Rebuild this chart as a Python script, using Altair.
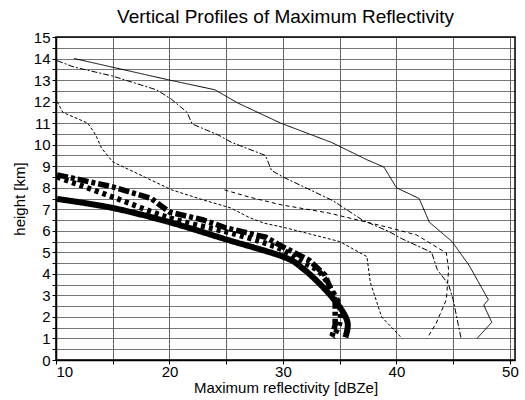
import altair as alt
import pandas as pd

# thin solid
a_x = [11.6, 20.0, 24.0, 26.0, 29.8, 31.3, 34.3, 37.4, 38.9, 40.0, 42.0, 42.9, 44.9, 46.4, 48.1, 47.7, 48.4, 47.1]
a_y = [14.0, 13.0, 12.55, 11.94, 11.0, 10.7, 10.1, 9.3, 8.96, 8.0, 7.5, 6.4, 5.5, 4.4, 2.8, 2.55, 1.75, 1.0]
# thin dash-dot
b_x = [10.1, 11.6, 14.9, 18.9, 20.2, 21.55, 22.0, 24.3, 25.5, 28.45, 29.0, 30.0, 34.4, 37.0, 39.4, 40.4, 43.1, 43.6, 44.6, 45.0, 45.7]
b_y = [13.9, 13.6, 13.2, 12.54, 12.1, 11.5, 10.96, 10.45, 10.1, 9.5, 8.8, 8.5, 7.4, 6.5, 5.95, 5.65, 5.0, 4.2, 3.5, 2.8, 1.0]
# thin dashed (starts at 25 dBZe)
c_x = [24.85, 27.0, 29.9, 34.0, 36.6, 39.5, 41.8, 44.4, 44.6, 44.4, 43.5, 42.7]
c_y = [7.9, 7.57, 7.2, 6.83, 6.5, 6.13, 5.8, 4.97, 4.2, 2.8, 1.7, 1.0]
# thin fine dashed
d_x = [10.1, 10.6, 12.8, 13.5, 14.0, 15.0, 17.8, 20.2, 23.0, 25.4, 27.1, 28.3, 30.3, 35.0, 37.4, 37.7, 38.7, 40.5]
d_y = [12.0, 11.5, 11.0, 10.45, 9.85, 9.2, 8.5, 7.9, 7.43, 7.06, 6.6, 6.36, 6.13, 5.5, 4.8, 3.6, 2.0, 1.0]
# thick solid
e_x = [10.1, 15.0, 20.0, 25.0, 30.0, 31.7, 33.5, 35.0, 35.7, 35.5]
e_y = [7.48, 7.06, 6.4, 5.6, 4.8, 4.27, 3.4, 2.46, 1.72, 1.05]
# thick dotted
f_x = [10.1, 15.0, 20.0, 25.0, 28.0, 30.0, 31.7, 33.2, 34.3, 35.0, 35.0, 34.4]
f_y = [8.5, 7.57, 6.6, 5.95, 5.5, 5.1, 4.55, 4.1, 3.25, 2.5, 1.7, 1.05]
# thick dash-dot
g_x = [10.1, 15.0, 18.4, 20.0, 23.0, 25.0, 28.5, 30.2, 32.3, 33.7, 34.6, 34.6, 34.3]
g_y = [8.6, 8.04, 7.5, 6.87, 6.5, 6.13, 5.7, 5.2, 4.64, 3.95, 2.8, 1.63, 1.05]

x_ticks = [10, 15, 20, 25, 30, 35, 40, 45, 50]
y_ticks = [v / 2 for v in range(0, 31)]

styles = [
    (a_x, a_y, 1.0, [1, 0], "linear"),
    (b_x, b_y, 1.0, [6, 2, 2, 2], "linear"),
    (c_x, c_y, 1.0, [4, 3], "linear"),
    (d_x, d_y, 1.0, [3, 2], "linear"),
    (e_x, e_y, 6.0, [1, 0], "cardinal"),
    (f_x, f_y, 5.5, [4, 4], "cardinal"),
    (g_x, g_y, 5.5, [11, 3, 4, 3], "linear"),
]

xs = alt.Scale(domain=[10, 50.45], nice=False, zero=False)
ys = alt.Scale(domain=[0, 15], nice=False, zero=False)

x_axis = alt.Axis(values=x_ticks, labelExpr="datum.value % 10 == 0 ? format(datum.value, 'd') : ''",
                  title="Maximum reflectivity [dBZe]", grid=True, gridColor="#555",
                  gridWidth=0.9, gridOpacity=1, domainColor="black", domainWidth=1.5,
                  tickColor="black", tickSize=4, labelFontSize=15, titleFontSize=15,
                  titleFontWeight="normal", labelColor="black", titleColor="black",
                  labelPadding=0, titlePadding=1, labelFont="Liberation Sans",
                  titleFont="Liberation Sans")
y_axis = alt.Axis(values=y_ticks, labelExpr="datum.value % 1 == 0 ? format(datum.value, 'd') : ''",
                  title="height [km]", grid=True, gridColor="#666", gridWidth=0.9,
                  gridOpacity=1, domainColor="black", domainWidth=1.5, tickColor="black",
                  tickSize=4, labelFontSize=15, titleFontSize=15, titleFontWeight="normal",
                  labelColor="black", titleColor="black", labelPadding=2, titlePadding=6,
                  labelFont="Liberation Sans", titleFont="Liberation Sans")

layers = []
for i, (xv, yv, w, dash, interp) in enumerate(styles):
    df = pd.DataFrame({"x": xv, "y": yv, "o": list(range(len(xv)))})
    enc = dict(
        x=alt.X("x:Q", scale=xs, axis=x_axis),
        y=alt.Y("y:Q", scale=ys, axis=y_axis),
        order="o:O",
    )
    layers.append(
        alt.Chart(df).mark_line(color="black", strokeWidth=w, strokeDash=dash,
                                interpolate=interp, strokeCap="butt",
                                strokeJoin="round", clip=True).encode(**enc)
    )

# frame around the plot area
frame = alt.Chart(pd.DataFrame({"x": [10], "x2": [50.45], "y": [0], "y2": [15]})).mark_rect(
    fill=None, stroke="black", strokeWidth=1.5
).encode(x=alt.X("x:Q", scale=xs, axis=x_axis), x2="x2:Q",
         y=alt.Y("y:Q", scale=ys, axis=y_axis), y2="y2:Q")

chart = alt.layer(*layers, frame).properties(
    width=459, height=323,
    title=alt.TitleParams("Vertical Profiles of Maximum Reflectivity", fontSize=19,
                          font="Liberation Sans", fontWeight="normal", color="black",
                          anchor="middle", offset=3),
    padding={"left": 56, "top": 37, "right": 10, "bottom": 40},
    autosize=alt.AutoSizeParams(type="none"),
).configure_view(stroke=None).configure(background="white")

chart.save("out.html", embed_options={"renderer": "svg", "actions": False})
